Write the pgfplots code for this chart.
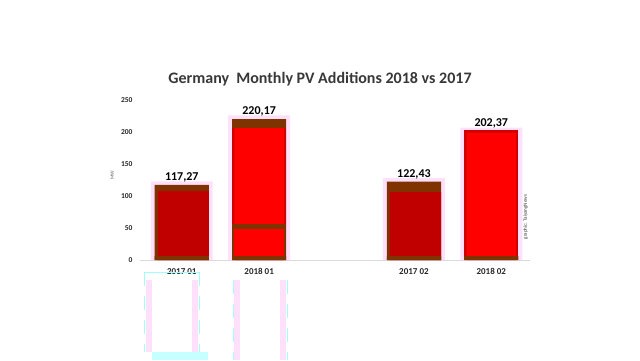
\documentclass[border=0pt]{standalone}
\usepackage{pgfplots}
\pgfplotsset{compat=1.18}
\usepackage{fontspec}
\setmainfont{Carlito}
\definecolor{brn}{HTML}{7F3300}
\definecolor{dred}{HTML}{C00000}
\definecolor{mred}{HTML}{D00000}
\definecolor{bred}{HTML}{FF0000}
\definecolor{pinkg}{HTML}{FFE0FA}
\definecolor{cyn}{HTML}{A0FFFF}
\begin{document}
\begin{tikzpicture}
\begin{axis}[
  name=main,
  width=390pt, height=160pt, scale only axis,
  xmin=-0.54, xmax=4.5, ymin=0, ymax=250,
  xtick={0,1,3,4},
  xticklabels={2017 01,2018 01,2017 02,2018 02},
  ytick={0,50,100,150,200,250},
  axis y line*=left, axis x line*=bottom,
  y axis line style={draw=none},
  x axis line style={draw=black!15, line width=0.8pt, -},
  major tick length=0pt,
  /pgf/number format/assume math mode=true,
  tick label style={font=\fontsize{7.5}{8}\selectfont\bfseries, text=black!85},
  xticklabel style={font=\fontsize{9}{10}\selectfont\bfseries, yshift=-5pt},
  yticklabel style={xshift=-4pt},
  ylabel={MW},
  ylabel style={font=\fontsize{5}{6}\selectfont, text=black!60, at={(axis description cs:-0.058,0.53)}},
  clip=false,
  every axis plot/.append style={ybar, draw=none, bar shift=0pt},
]
% pink glow
\addplot[fill=pinkg, bar width=0.8] coordinates {(0,123) (1,226) (3,128) (4,207)};
% brown full bars with labels
\addplot[fill=brn, bar width=0.7,
  point meta=explicit symbolic,
  nodes near coords, nodes near coords align={vertical},
  every node near coord/.style={font=\fontsize{12}{13}\selectfont\bfseries, text=black, yshift=-1pt}]
  coordinates {(0,117.27) [117,27] (1,220.17) [220,17] (3,122.43) [122,43]};
\addplot[fill=mred, bar width=0.7,
  point meta=explicit symbolic,
  nodes near coords, nodes near coords align={vertical},
  every node near coord/.style={font=\fontsize{12}{13}\selectfont\bfseries, text=black, yshift=-1pt}]
  coordinates {(4,202.37) [202,37]};
\addplot[fill=mred, bar width=0.7] coordinates {(1,206)};
% main red bodies
\addplot[fill=dred, bar width=0.66, bar shift=0.02] coordinates {(0,108) (3,106)};
\addplot[fill=bred, bar width=0.64] coordinates {(1,206) (4,199)};
% middle band of 2018 01
\addplot[fill=brn, bar width=0.7] coordinates {(1,57)};
\addplot[fill=bred, bar width=0.64] coordinates {(1,49)};
% bottom bands
\addplot[fill=brn, bar width=0.7] coordinates {(0,6) (1,6) (3,6) (4,6)};
\end{axis}
\begin{scope}[shift={(main.south west)}, x=1pt, y=1pt, shift={(-140pt,-100pt)}]
\path[use as bounding box] (0,0) rectangle (640,360);
% faint artifacts below the axis
\fill[pinkg] (146,80) rectangle (152,8);
\fill[pinkg] (192,80) rectangle (198,8);
\fill[pinkg] (234,80) rectangle (240,0);
\fill[pinkg] (280,80) rectangle (286,0);
\draw[cyn] (144.5,88) -- (199.5,88);
\draw[cyn,dash pattern=on 14pt off 10pt] (144.5,88) -- (144.5,8);
\draw[cyn,dash pattern=on 14pt off 10pt] (199.5,88) -- (199.5,8);
\fill[cyn!60] (152,8) rectangle (208,0);
\draw[cyn,dash pattern=on 14pt off 10pt] (233.5,80) -- (233.5,0);
\draw[cyn,dash pattern=on 14pt off 10pt] (287.5,80) -- (287.5,0);
\node[font=\fontsize{16}{19}\selectfont\bfseries, text=black!78] at (320,281) {Germany\ \ Monthly PV Additions 2018 vs 2017};
\node[font=\fontsize{5}{6}\selectfont, text=black!80, rotate=90] at (525.5,143) {graphic: TaiyangNews};
\end{scope}
\end{tikzpicture}
\end{document}
